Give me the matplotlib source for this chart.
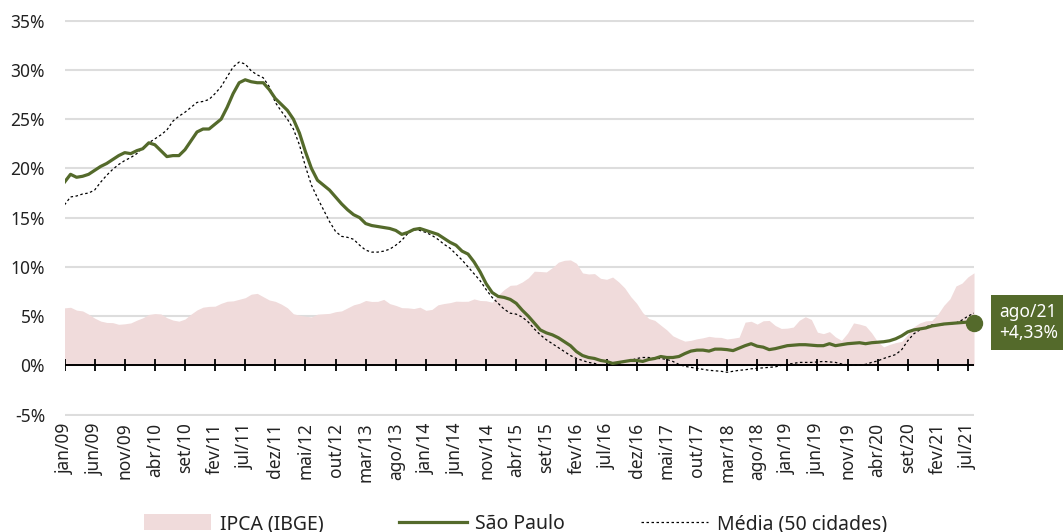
import matplotlib
matplotlib.use("Agg")
import matplotlib.pyplot as plt
from matplotlib.patches import Patch
from matplotlib.lines import Line2D
import numpy as np

plt.rcParams['font.family'] = ['Noto Sans', 'DejaVu Sans']

# Monthly data jan/09 .. ago/21 (152 months), 12-month variation in %
ipca = [
    5.84, 5.90, 5.61, 5.53, 5.20, 4.80, 4.50, 4.36, 4.34, 4.17, 4.22, 4.31,
    4.59, 4.83, 5.17, 5.26, 5.22, 4.84, 4.60, 4.49, 4.70, 5.20, 5.63, 5.91,
    5.99, 6.01, 6.30, 6.51, 6.55, 6.71, 6.87, 7.23, 7.31, 6.97, 6.64, 6.50,
    6.22, 5.85, 5.24, 5.10, 4.99, 4.92, 5.20, 5.24, 5.28, 5.45, 5.53, 5.84,
    6.15, 6.31, 6.59, 6.49, 6.50, 6.70, 6.27, 6.09, 5.86, 5.84, 5.77, 5.91,
    5.59, 5.68, 6.15, 6.28, 6.37, 6.52, 6.50, 6.51, 6.75, 6.59, 6.56, 6.41,
    7.14, 7.70, 8.13, 8.17, 8.47, 8.89, 9.56, 9.53, 9.49, 9.93, 10.48, 10.67,
    10.71, 10.36, 9.39, 9.28, 9.32, 8.84, 8.74, 8.97, 8.48, 7.87, 6.99, 6.29,
    5.35, 4.76, 4.57, 4.08, 3.60, 3.00, 2.71, 2.46, 2.54, 2.70, 2.80, 2.95,
    2.86, 2.84, 2.68, 2.76, 2.86, 4.39, 4.48, 4.19, 4.53, 4.56, 4.05, 3.75,
    3.78, 3.89, 4.58, 4.94, 4.66, 3.37, 3.22, 3.43, 2.89, 2.54, 3.27, 4.31,
    4.19, 4.01, 3.30, 2.40, 1.88, 2.13, 2.31, 2.44, 3.14, 3.92, 4.31, 4.52,
    4.56, 5.20, 6.10, 6.76, 8.06, 8.35, 8.99, 9.40,
]

sao_paulo = [
    18.6, 19.4, 19.1, 19.2, 19.4, 19.8, 20.2, 20.5, 20.9, 21.3, 21.6, 21.5,
    21.8, 22.0, 22.6, 22.4, 21.8, 21.2, 21.3, 21.3, 21.9, 22.8, 23.7, 24.0,
    24.0, 24.5, 25.0, 26.2, 27.6, 28.7, 29.0, 28.8, 28.7, 28.7, 28.0, 27.1,
    26.5, 25.9, 25.0, 23.6, 21.7, 20.0, 18.8, 18.3, 17.8, 17.1, 16.4, 15.8,
    15.3, 15.0, 14.4, 14.2, 14.1, 14.0, 13.9, 13.7, 13.3, 13.5, 13.8, 13.9,
    13.7, 13.5, 13.3, 12.9, 12.5, 12.2, 11.6, 11.3, 10.5, 9.5, 8.3, 7.4,
    7.0, 6.9, 6.7, 6.3, 5.6, 5.0, 4.3, 3.6, 3.3, 3.1, 2.8, 2.4,
    2.0, 1.4, 1.0, 0.8, 0.7, 0.5, 0.4, 0.2, 0.3, 0.4, 0.5, 0.5,
    0.4, 0.6, 0.7, 0.9, 0.8, 0.8, 0.9, 1.2, 1.45, 1.55, 1.55, 1.45,
    1.65, 1.65, 1.6, 1.5, 1.75, 2.0, 2.2, 1.95, 1.85, 1.6, 1.7, 1.85,
    2.0, 2.05, 2.1, 2.1, 2.05, 2.0, 2.0, 2.2, 2.0, 2.1, 2.2, 2.25,
    2.3, 2.2, 2.3, 2.35, 2.4, 2.5, 2.7, 3.0, 3.4, 3.6, 3.7, 3.8,
    4.0, 4.1, 4.2, 4.25, 4.3, 4.35, 4.4, 4.33,
]

media_50 = [
    16.3, 17.1, 17.2, 17.4, 17.5, 17.8, 18.6, 19.3, 19.9, 20.4, 20.8, 21.1,
    21.5, 22.1, 22.6, 23.0, 23.4, 23.9, 24.8, 25.3, 25.7, 26.2, 26.7, 26.8,
    27.0, 27.6, 28.3, 29.3, 30.3, 30.8, 30.6, 29.9, 29.5, 29.2, 28.3, 26.7,
    25.8, 25.0, 24.0, 22.4, 20.2, 18.3, 17.0, 15.8, 14.6, 13.6, 13.1, 13.0,
    12.8, 12.2, 11.7, 11.5, 11.5, 11.6, 11.8, 12.2, 12.7, 13.4, 13.8, 13.7,
    13.5, 13.2, 12.8, 12.3, 11.9, 11.3, 10.7, 10.0, 9.3, 8.6, 7.7, 6.9,
    6.3, 5.7, 5.3, 5.2, 4.9, 4.4, 3.7, 3.1, 2.6, 2.2, 1.8, 1.4,
    1.0, 0.7, 0.5, 0.3, 0.2, 0.0, 0.0, 0.1, 0.2, 0.4, 0.5, 0.7,
    0.8, 0.8, 0.7, 0.7, 0.6, 0.4, 0.1, -0.1, -0.2, -0.3, -0.4, -0.5,
    -0.55, -0.6, -0.7, -0.6, -0.5, -0.45, -0.35, -0.3, -0.25, -0.2, -0.15, 0.0,
    0.1, 0.2, 0.3, 0.3, 0.3, 0.35, 0.4, 0.35, 0.3, 0.15, 0.05, 0.0,
    0.05, 0.1, 0.3, 0.45, 0.7, 0.9, 1.1, 1.6, 2.5, 3.2, 3.6, 3.9,
    4.1, 4.1, 4.15, 4.2, 4.3, 4.6, 5.0, 5.3,
]

tick_labels = [
    "jan/09", "jun/09", "nov/09", "abr/10", "set/10", "fev/11", "jul/11",
    "dez/11", "mai/12", "out/12", "mar/13", "ago/13", "jan/14", "jun/14",
    "nov/14", "abr/15", "set/15", "fev/16", "jul/16", "dez/16", "mai/17",
    "out/17", "mar/18", "ago/18", "jan/19", "jun/19", "nov/19", "abr/20",
    "set/20", "fev/21", "jul/21",
]
yticks = [-5, 0, 5, 10, 15, 20, 25, 30, 35]
last_label = "ago/21\n+4,33%"

GREEN = "#546a2b"
PINK = "#f0dbdb"
TXT = "#222222"

n = len(sao_paulo)
x = np.arange(n)
tick_pos = np.arange(0, len(tick_labels) * 5, 5)

fig = plt.figure(figsize=(10.63, 5.32), dpi=100)
W, H = 1063, 532
left, right = 64.5 / W, 974 / W
top, bottom = (H - 19.7) / H, (H - 415.6) / H
ax = fig.add_axes([left, bottom, right - left, top - bottom])

ax.set_xlim(0, n - 1)
ax.set_ylim(-5.1, 35.1)

for s in ax.spines.values():
    s.set_visible(False)

ax.set_yticks(yticks)
ax.set_yticklabels([f"{v}%" for v in yticks])
ax.yaxis.grid(True, color="#dddddd", lw=1.5, zorder=0)
ax.set_axisbelow(True)
ax.tick_params(axis="y", length=0, pad=14, labelsize=12.5, labelcolor=TXT)

ax.set_xticks(tick_pos)
ax.set_xticklabels(tick_labels, rotation=90, va="top", ha="center")
ax.tick_params(axis="x", length=0, pad=5, labelsize=12.5, labelcolor=TXT)

ax.fill_between(x, 0, ipca, color=PINK, lw=0, zorder=1)
ax.axhline(0, color="black", lw=1.4, zorder=2)
ax.plot(tick_pos, np.zeros(len(tick_pos)), ls="none", marker="|",
        markersize=8.5, mew=1.3, color="black", zorder=2)
ax.plot(x, media_50, color="black", lw=0.9, ls=(0, (2, 2)), zorder=3)
ax.plot(x, sao_paulo, color=GREEN, lw=2.3, zorder=4)
ax.plot([x[-1]], [sao_paulo[-1]], marker="o", markersize=11.5,
        color=GREEN, zorder=5, clip_on=False)

ax.annotate(last_label, xy=(x[-1], sao_paulo[-1]), xytext=(39, 0),
            textcoords="offset points", ha="center", va="center",
            color="white", fontsize=12.5, linespacing=1.25,
            bbox=dict(boxstyle="square,pad=0.45", fc=GREEN, ec="none"),
            annotation_clip=False)

handles = [
    Patch(facecolor=PINK, edgecolor="none"),
    Line2D([], [], color=GREEN, lw=2.3),
    Line2D([], [], color="black", lw=0.9, ls=(0, (2, 2))),
]
fig.legend(handles, ["IPCA (IBGE)", "São Paulo", "Média (50 cidades)"],
           loc="center", bbox_to_anchor=(0.485, 0.015), ncol=3,
           frameon=False, fontsize=14, handlelength=3.45,
           handleheight=0.9, handletextpad=0.45, columnspacing=3.9,
           labelcolor=TXT)

fig.savefig("out.png", dpi=100)
